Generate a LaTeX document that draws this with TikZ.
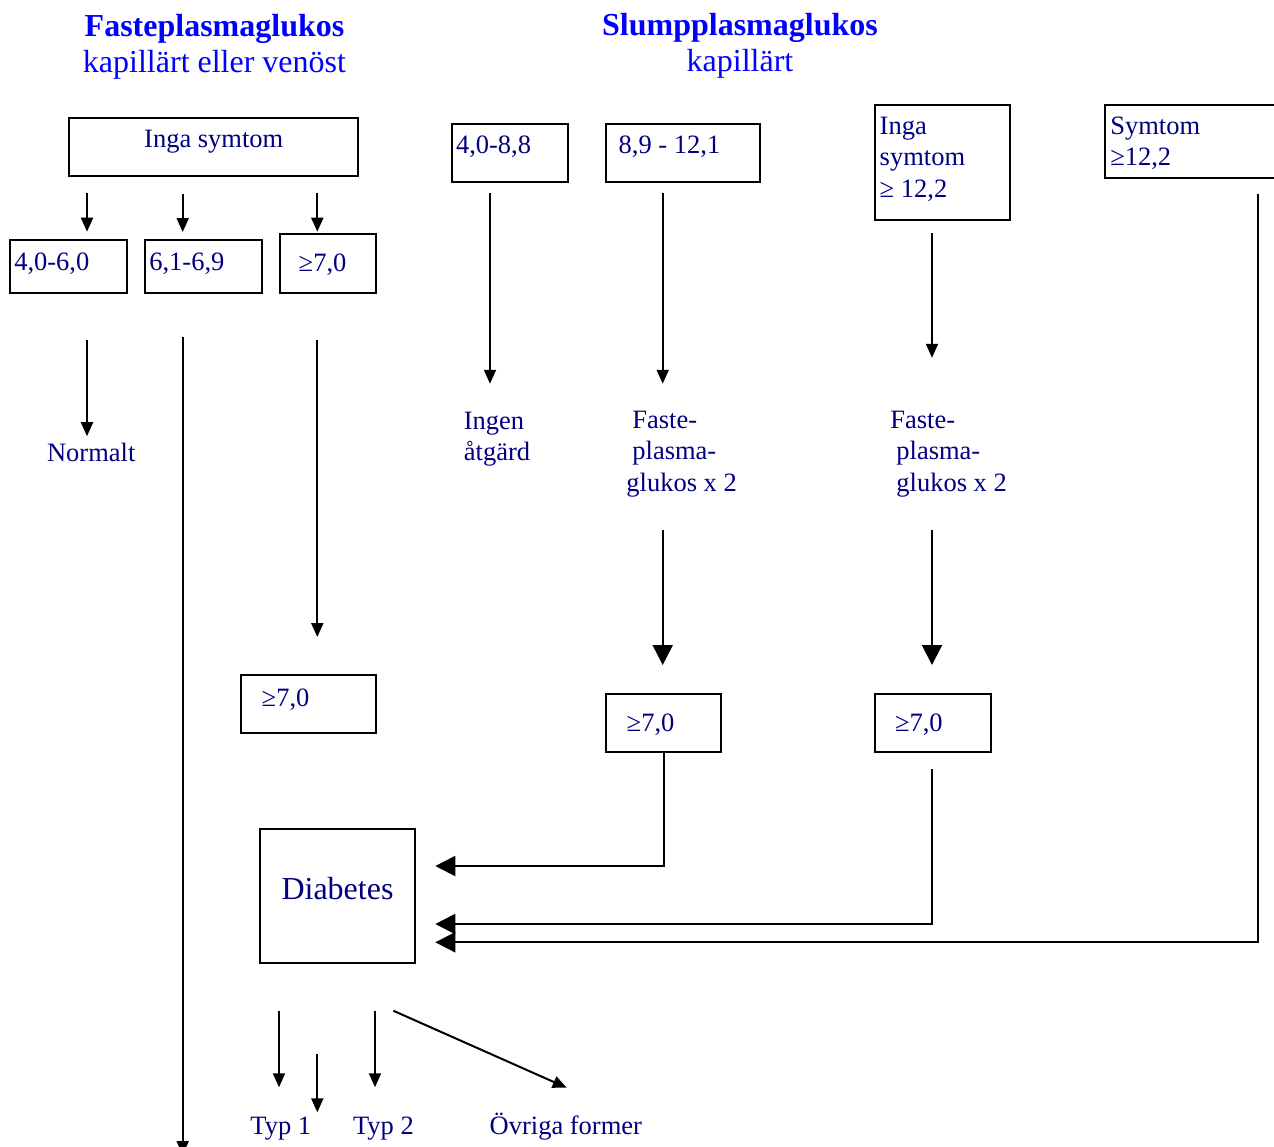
\documentclass[tikz,border=0pt]{standalone}
\usepackage{fontspec}
\setmainfont{Liberation Serif}
\usetikzlibrary{arrows.meta}
\definecolor{navytext}{HTML}{000080}
\definecolor{titleblue}{HTML}{0000FF}

\begin{document}
\begin{tikzpicture}[x=0.5pt, y=-0.5pt,
  valbox/.style={draw, line width=1pt, anchor=north west, inner ysep=0pt,
    align=flush left, text=navytext, font=\fontsize{13.25}{15.75}\selectfont},
  lbl/.style={anchor=base west, inner sep=0pt, align=flush left, text=navytext,
    font=\fontsize{13.25}{15.75}\selectfont},
  heading/.style={anchor=base, inner sep=0pt, align=flush center, text width=160pt,
    text=titleblue, font=\fontsize{16}{18}\selectfont},
  arr/.style={-{Triangle[length=7pt,width=6pt]}, line width=1pt},
  bigarr/.style={-{Triangle[length=10pt,width=10pt]}, line width=1pt}]
\useasboundingbox (0,0) rectangle (1274,1146);
\clip (0,0) rectangle (1274,1146);

\node[heading] (fpgtitle) at (214.5,36.5) {\textbf{Fasteplasmaglukos}\\kapillärt eller venöst};
\node[heading] (spgtitle) at (740,35.3) {\textbf{Slumpplasmaglukos}\\kapillärt};

% fasteplasmaglukos
\node[valbox, text width=144.5pt, inner xsep=0pt, text height=14.7pt, text depth=14.3pt, align=flush center] (inga) at (68.3,117.3) {Inga symtom};
\node[valbox, text width=54.2pt, inner xsep=2pt, text height=15pt, text depth=11.2pt] (f1) at (9.3,239.3) {4,0-6,0};
\node[valbox, text width=54.2pt, inner xsep=2.15pt, text height=15pt, text depth=11.2pt] (f2) at (144,239.3) {6,1-6,9};
\node[valbox, text width=29.15pt, inner xsep=9.5pt, text height=18.7pt, text depth=10.5pt] (f3) at (278.7,233.3) {≥7,0};
\node[valbox, text width=46.95pt, inner xsep=10.35pt, text height=15.65pt, text depth=13.35pt] (f4) at (240,673.7) {≥7,0};
\node[lbl] (normalt) at (46.7,461) {Normalt};

% slumpplasmaglukos
\node[valbox, text width=54.15pt, inner xsep=1.85pt, text height=15pt, text depth=14pt] (s1) at (451.3,122.7) {4,0-8,8};
\node[valbox, text width=64.45pt, inner xsep=6.35pt, text height=15pt, text depth=14pt] (s2) at (605,122.7) {8,9 - 12,1};
\node[valbox, text width=62.8pt, inner xsep=2.5pt, text height=14.8pt, text depth=43pt] (s3) at (873.7,103.7) {Inga\\symtom\\≥ 12,2};
\node[valbox, text width=92.85pt, inner xsep=2.5pt, text height=14.8pt, text depth=22pt] (s4) at (1104.3,103.7) {Symtom\\≥12,2};
\node[lbl, text width=40pt] (ingen) at (463.5,429) {Ingen\\åtgärd};
\node[lbl, text width=70pt] (fpg1) at (626,428) {\hspace*{3pt}Faste-\\\hspace*{3pt}plasma-\\glukos x 2};
\node[lbl, text width=70pt] (fpg2) at (890,428) {Faste-\\\hspace*{3pt}plasma-\\\hspace*{3pt}glukos x 2};
\node[valbox, text width=36.8pt, inner xsep=10.35pt, text height=19pt, text depth=10pt] (s5) at (605,692.7) {≥7,0};
\node[valbox, text width=37.85pt, inner xsep=10.15pt, text height=19pt, text depth=10.15pt] (s6) at (873.7,692.7) {≥7,0};

% diabetes
\node[valbox, text width=77.2pt, inner xsep=0pt, text height=35.3pt, text depth=31.85pt, align=flush center, font=\fontsize{16}{18}\selectfont] (diab) at (259.3,827.7) {Diabetes};
\node[lbl] (typ1) at (250,1134) {Typ 1};
\node[lbl] (typ2) at (352.7,1134) {Typ 2};
\node[lbl] (ovriga) at (489.3,1134) {Övriga former};

\coordinate (c1) at (87,193);
\coordinate (c2) at (182.7,194);
\coordinate (c3) at (317.3,193);
\coordinate (c4) at (87,340);
\coordinate (c5) at (182.7,337);
\coordinate (e5) at (182.7,1155);
\coordinate (c6) at (317.3,340);
\coordinate (c7) at (490,193);
\coordinate (c8) at (662.7,193);
\coordinate (c9) at (932,233.3);
\coordinate (c10) at (662.7,530);
\coordinate (c11) at (932,530);
\coordinate (j1) at (662.5,866);
\coordinate (c12) at (932,769.3);
\coordinate (j2) at (932,924);
\coordinate (c13) at (1258,194.3);
\coordinate (j3) at (1258,942.3);
\coordinate (c14) at (279,1010.7);
\coordinate (c15) at (317.3,1054.3);
\coordinate (c16) at (375,1010.7);
\coordinate (c17) at (393.3,1010.7);
\coordinate (e17) at (566.7,1087.7);

\draw[arr, shorten >=3.8pt] (c1) -- (c1 |- f1.north);
\draw[arr, shorten >=3.65pt] (c2) -- (c2 |- f2.north);
\draw[arr, shorten >=0.8pt] (c3) -- (c3 |- f3.north);
\draw[arr, shorten >=3pt] (c4) -- (c4 |- normalt.north);
\draw[arr] (c5) -- (e5);
\draw[arr, shorten >=18.35pt] (c6) -- (c6 |- f4.north);
\draw[arr, shorten >=13.75pt] (c7) -- (c7 |- ingen.north);
\draw[arr, shorten >=13.25pt] (c8) -- (c8 |- fpg1.north);
\draw[arr, shorten >=26.25pt] (c9) -- (c9 |- fpg2.north);
\draw[bigarr, shorten >=13.85pt] (c10) -- (c10 |- s5.north);
\draw[bigarr, shorten >=13.85pt] (c11) -- (c11 |- s6.north);
\draw[bigarr, shorten >=9.8pt] (s5.south) |- (j1 -| diab.east);
\draw[bigarr, shorten >=9.8pt] (c12) -- (j2) -- (j2 -| diab.east);
\draw[bigarr, shorten >=9.8pt] (c13) -- (j3) -- (j3 -| diab.east);
\draw[arr, shorten >=14.4pt] (c14) -- (c14 |- typ1.north);
\draw[arr, shorten >=1.9pt] (c15) -- (c15 |- typ1.north);
\draw[arr, shorten >=14.4pt] (c16) -- (c16 |- typ2.north);
\draw[arr] (c17) -- (e17);
\end{tikzpicture}
\end{document}
